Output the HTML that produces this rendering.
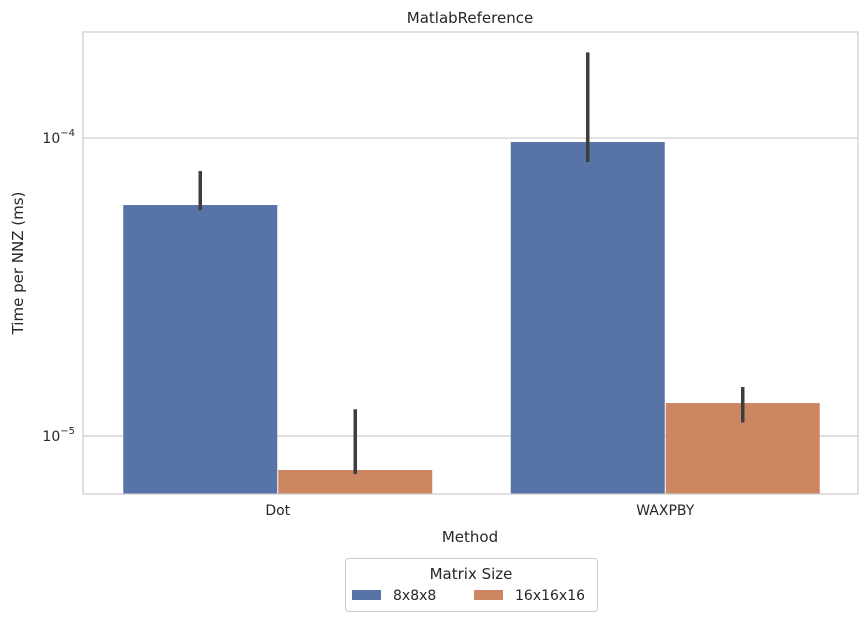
<!DOCTYPE html>
<html><head><meta charset="utf-8"><style>
body{margin:0;background:#fff;font-family:"Liberation Sans","DejaVu Sans",sans-serif;}
</style></head><body>
<svg id="chart" width="868" height="621" xmlns="http://www.w3.org/2000/svg" font-family="DejaVu Sans, Liberation Sans, sans-serif">
<text x="470" y="23" text-anchor="middle" font-size="15" fill="#262626">MatlabReference</text>
<g id="grid"></g><g id="bars"></g><g id="errs"></g>
<rect x="83" y="32" width="775" height="462" fill="none" stroke="#cccccc" stroke-width="1.2"/>
<g id="xt"></g><g id="yt"></g>
<text x="470" y="542" text-anchor="middle" font-size="15" fill="#262626">Method</text>
<text transform="translate(23,263) rotate(-90)" text-anchor="middle" font-size="15" fill="#262626">Time per NNZ (ms)</text>
<g>
<rect x="345.5" y="558.5" width="252" height="53" rx="3" fill="#fff" stroke="#cccccc"/>
<text x="471" y="579" text-anchor="middle" font-size="15" fill="#262626">Matrix Size</text>
<g><rect x="352" y="590" width="29" height="10" fill="#5874a6"/><text x="393" y="600" font-size="14" fill="#262626">8x8x8</text></g>
<g><rect x="474" y="590" width="29" height="10" fill="#cc8662"/><text x="515" y="600" font-size="14" fill="#262626">16x16x16</text></g>
</g>
</svg>
<script>
const categories=["Dot","WAXPBY"];
const series=["8x8x8","16x16x16"];
const colors=["#5874a6","#cc8662"];
const values8=[5.96e-5,9.70e-5];
const values16=[7.69e-6,1.29e-5];
const errLow8=[5.73e-5,8.31e-5];
const errHigh8=[7.75e-5,1.94e-4];
const errLow16=[7.45e-6,1.11e-5];
const errHigh16=[1.23e-5,1.46e-5];
const yTicks=[1e-5,1e-4];
const yTickExp=["−5","−4"];
const NS="http://www.w3.org/2000/svg";
const L=83,R=858,T=32,B=494,logTop=-3.644,logBot=-5.1946;
function y(v){return T+(logTop-Math.log10(v))/(logTop-logBot)*(B-T);}
const band=(R-L)/categories.length;
function xc(i){return L+1+band*(i+0.5);}
function mk(tag,a,p){const e=document.createElementNS(NS,tag);for(const k in a)e.setAttribute(k,a[k]);document.getElementById(p).appendChild(e);return e;}
yTicks.forEach((t,i)=>{
 const g=mk("line",{x1:L,x2:R,y1:y(t),y2:y(t),stroke:"#cccccc","stroke-width":1.2},"grid");
 
 
 const tx=mk("text",{x:L-8,y:y(t)+5,"text-anchor":"end","font-size":14,fill:"#262626"},"yt");
 
 
 tx.innerHTML='10<tspan dy="-7" font-size="10">'+yTickExp[i]+'</tspan>';
});
const vals=[values8,values16],lo=[errLow8,errLow16],hi=[errHigh8,errHigh16];
const bw=band*0.8/2;
categories.forEach((c,i)=>{
 const t=mk("text",{x:xc(i),y:515,"text-anchor":"middle","font-size":14,fill:"#262626"},"xt");
 
 
 t.textContent=c;
 for(let s=0;s<2;s++){
  const x0=xc(i)-bw+s*bw;
  const b=mk("rect",{x:x0+0.5,y:y(vals[s][i]),width:bw-1,height:B-y(vals[s][i]),fill:colors[s]},"bars");
  
  
  const e=mk("line",{x1:x0+bw/2,x2:x0+bw/2,y1:y(hi[s][i]),y2:y(lo[s][i]),stroke:"#3d3d3d","stroke-width":3.5},"errs");
  
  
 }
});
</script>
</body></html>
